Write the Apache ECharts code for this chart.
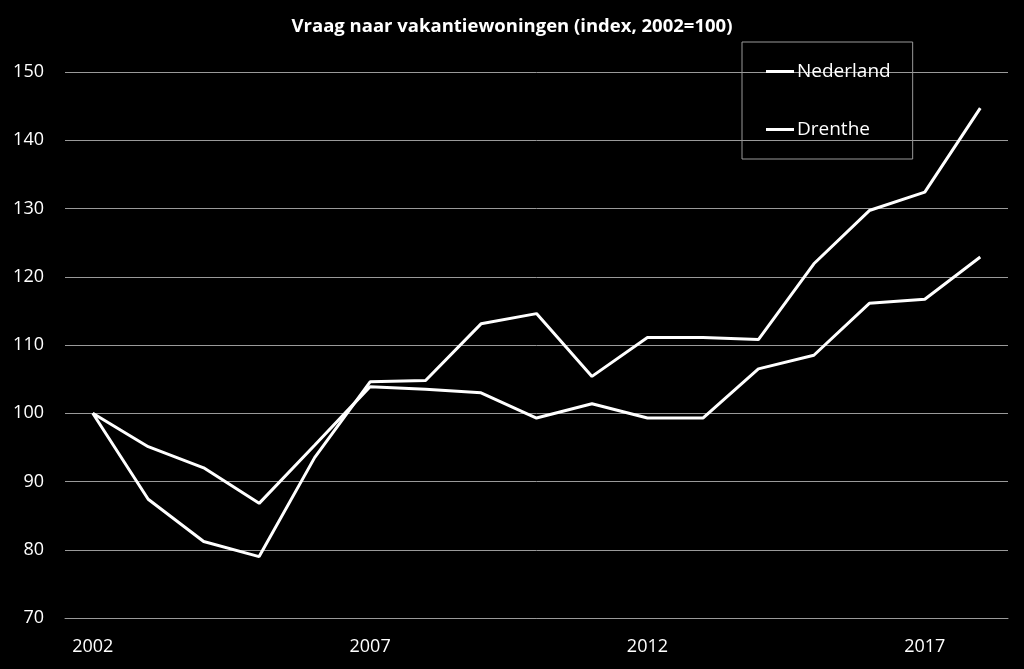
<!DOCTYPE html>
<html>
<head>
<meta charset="utf-8">
<title>Vraag naar vakantiewoningen</title>
<script src="https://cdn.jsdelivr.net/npm/echarts@6/dist/echarts.min.js"></script>
<style>
  html, body { margin: 0; padding: 0; background: #000; }
  #chart { width: 1024px; height: 669px; }
</style>
</head>
<body>
<div id="chart"></div>
<script>
// jaren en indexcijfers (2002 = 100)
const years = ['2002', '2003', '2004', '2005', '2006', '2007', '2008', '2009', '2010',
  '2011', '2012', '2013', '2014', '2015', '2016', '2017', '2018']
const nederland = [100, 87.4, 81.2, 79.0, 93.5, 104.6, 104.8, 113.1, 114.6,
  105.4, 111.1, 111.1, 110.8, 121.9, 129.7, 132.4, 144.7]
const drenthe = [100, 95.1, 92.0, 86.8, 95.3, 103.9, 103.5, 103.0, 99.3,
  101.4, 99.3, 99.3, 106.5, 108.5, 116.1, 116.7, 122.9]
const yTicks = { min: 70, max: 150, step: 10 }

const font = 'Open Sans'
const gridColor = '#9a9a9a'

const chart = echarts.init(document.getElementById('chart'))
chart.setOption({
  backgroundColor: '#000',
  animation: false,
  title: {
    text: 'Vraag naar vakantiewoningen (index, 2002=100)',
    left: 'center',
    top: 12,
    textStyle: { color: '#fff', fontFamily: font, fontSize: 18.5, fontWeight: 'bold' }
  },
  legend: {
    orient: 'vertical',
    left: 742,
    top: 42,
    padding: [20, 22, 20, 24],
    itemGap: 39,
    itemWidth: 28,
    itemHeight: 3,
    icon: 'rect',
    borderColor: gridColor,
    borderWidth: 1,
    textStyle: { color: '#fff', fontFamily: font, fontSize: 19, padding: [0, 0, 0, -2] },
    data: ['Nederland', 'Drenthe']
  },
  grid: { left: 65, right: 16, top: 72, bottom: 51 },
  xAxis: {
    type: 'category',
    data: years,
    boundaryGap: true,
    axisTick: { show: false },
    axisLine: { lineStyle: { color: gridColor, width: 1 } },
    axisLabel: { color: '#fff', fontFamily: font, fontSize: 18, interval: 4, margin: 20 }
  },
  yAxis: {
    type: 'value',
    min: yTicks.min,
    max: yTicks.max,
    interval: yTicks.step,
    axisLine: { show: false },
    axisTick: { show: false },
    splitLine: { lineStyle: { color: gridColor, width: 1 } },
    axisLabel: { color: '#fff', fontFamily: font, fontSize: 18, margin: 21 }
  },
  series: [
    {
      name: 'Nederland',
      type: 'line',
      data: nederland,
      symbol: 'none',
      lineStyle: { color: '#fff', width: 3 },
      itemStyle: { color: '#fff' }
    },
    {
      name: 'Drenthe',
      type: 'line',
      data: drenthe,
      symbol: 'none',
      lineStyle: { color: '#fff', width: 3 },
      itemStyle: { color: '#fff' }
    }
  ]
})
</script>
</body>
</html>
